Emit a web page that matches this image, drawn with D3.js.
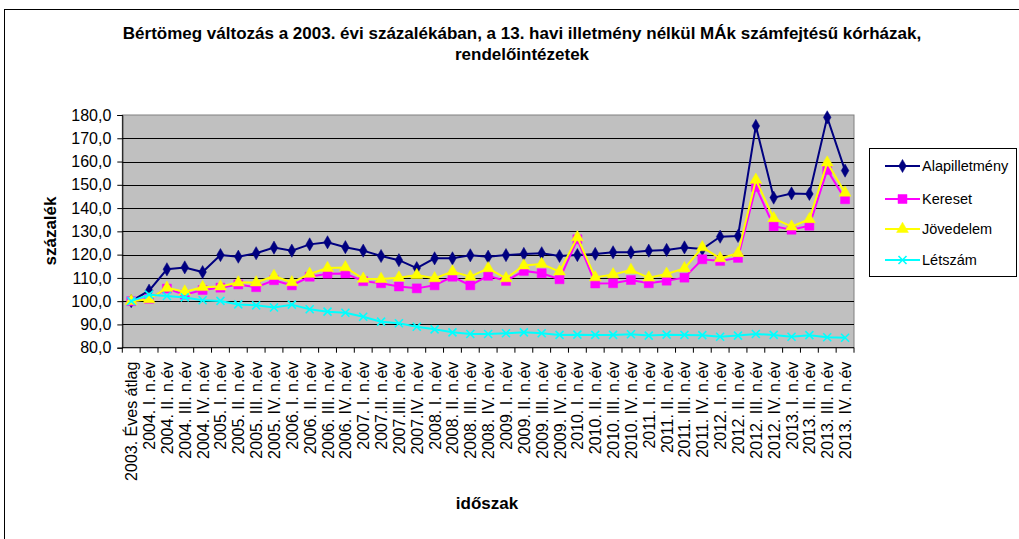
<!DOCTYPE html>
<html><head><meta charset="utf-8">
<script src="https://cdn.jsdelivr.net/npm/d3@7"></script>
<style>
html,body{margin:0;padding:0;background:#fff;}
svg{display:block;font-family:Arial,"Liberation Sans",sans-serif;}
</style></head>
<body>
<svg id="c" width="1019" height="539"></svg>
<script>
const categories = ["2003. Éves átlag",
"2004. I. n.év","2004. II. n.év","2004. III. n.év","2004. IV. n.év",
"2005. I. n.év","2005. II. n.év","2005. III. n.év","2005. IV. n.év",
"2006. I. n.év","2006. II. n.év","2006. III. n.év","2006. IV. n.év",
"2007. I. n.év","2007.II. n.év","2007.III. n.év","2007.IV. n.év",
"2008. I. n.év","2008. II. n.év","2008. III. n.év","2008. IV. n.év",
"2009. I. n.év","2009. II. n.év","2009. III. n.év","2009. IV. n.év",
"2010. I. n.év","2010. II. n.év","2010. III. n.év","2010. IV. n.év",
"2011. I. n.év","2011. II. n.év","2011. III. n.év","2011. IV. n.év",
"2012. I. n.év","2012. II. n.év","2012. III. n.év","2012. IV. n.év",
"2013. I. n.év","2013. II. n.év","2013. III. n.év","2013. IV. n.év"];

const alapilletmeny = [100,104.5,113.7,114.5,112.5,119.8,119.1,120.6,123.0,121.7,124.4,125.3,123.2,
121.7,119.4,117.6,114.2,118.4,118.4,119.7,119.1,119.8,120.3,120.6,119.4,
119.8,120.3,121.0,121.0,121.7,122.0,123.1,122.4,127.7,128.0,175.3,144.5,146.3,146.1,179.0,156.1];
const kereset = [100,101,105.4,102.8,104.8,105.8,107.2,106.0,109.0,106.8,110.5,111.8,111.9,
108.6,107.7,106.3,105.5,106.8,110.5,106.8,110.9,108.7,113.0,112.0,109.4,
126.6,107.6,107.7,109.1,107.7,108.8,110.1,118.0,117.3,118.6,149.1,132.2,130.7,132.4,156.4,143.8];
const jovedelem = [100,100.8,105.7,104.1,106.0,106.3,108.0,108.0,110.8,108.1,111.7,114.2,114.5,
109.6,109.5,110.1,111.2,109.8,112.7,110.5,114.1,109.8,115.3,116.0,112.7,
127.4,110.2,111.5,113.4,110.1,111.7,114.1,123.1,118.4,120.6,152.1,135.6,132.0,135.2,159.5,146.6];
const letszam = [100,102.8,102.2,101.6,100.4,100.1,98.6,98.2,97.3,98.5,96.5,95.5,95.0,
93.3,91.2,90.5,89.0,87.9,86.6,85.9,85.9,86.2,86.6,86.2,85.5,
85.6,85.5,85.5,85.8,85.2,85.6,85.5,85.4,84.7,85.2,85.9,85.5,84.7,85.4,84.5,84.3];
const yTicks = [80,90,100,110,120,130,140,150,160,170,180];

const seriesNames = ["Alapilletmény","Kereset","Jövedelem","Létszám"];
const seriesData = [alapilletmeny,kereset,jovedelem,letszam];
const colors = ["#000080","#FF00FF","#FFFF00","#00FFFF"];
const symbols = ["diamond","square","triangle","x"];

const svg = d3.select("#c");
const L=122.3, R=854, T=115, B=347.7;
const x = d3.scaleBand().domain(categories).range([L,R]).paddingInner(0).paddingOuter(0);
const y = d3.scaleLinear().domain([80,180]).range([B,T]);

// outer frame
svg.append("rect").attr("x",4.5).attr("y",9.5).attr("width",1100).attr("height",600)
  .attr("fill","none").attr("stroke","#000").attr("stroke-width",1);

// title
const title = svg.append("text").attr("text-anchor","middle").attr("font-weight","bold")
  .attr("font-size","17px").attr("fill","#000");
title.append("tspan").attr("x",522).attr("y",39).text("Bértömeg változás a 2003. évi százalékában, a 13. havi illetmény nélkül MÁk számfejtésű kórházak,");
title.append("tspan").attr("x",522).attr("y",60).text("rendelőintézetek");

// plot background
svg.append("rect").attr("x",L).attr("y",T).attr("width",R-L).attr("height",B-T)
  .attr("fill","#C0C0C0").attr("stroke","#808080").attr("stroke-width",1);

// gridlines
svg.append("g").selectAll("line").data(yTicks.filter(v=>v>80 && v<180)).join("line")
  .attr("x1",L).attr("x2",R).attr("y1",d=>Math.round(y(d))+0.5).attr("y2",d=>Math.round(y(d))+0.5)
  .attr("stroke","#000").attr("stroke-width",1);

// y axis
const yAxis = svg.append("g").attr("transform",`translate(${L},0)`)
  .call(d3.axisLeft(y).tickValues(yTicks).tickSize(5).tickPadding(6)
  .tickFormat(d=>d3.format(".1f")(d).replace(".",",")));
yAxis.select(".domain").attr("stroke","#000");
yAxis.selectAll("line").attr("stroke","#000");
yAxis.selectAll("text").attr("font-size","16px").attr("font-family","Arial,'Liberation Sans',sans-serif").attr("fill","#000");

// x axis line + ticks at category boundaries
const xg = svg.append("g");
xg.append("line").attr("x1",L).attr("x2",R).attr("y1",B).attr("y2",B).attr("stroke","#000");
const bounds = categories.map(c=>x(c)).concat([R]);
xg.selectAll("line.t").data(bounds).join("line").attr("class","t")
  .attr("x1",d=>d).attr("x2",d=>d).attr("y1",B).attr("y2",B+5).attr("stroke","#000");
xg.selectAll("text").data(categories).join("text")
  .attr("transform",d=>`translate(${x(d)+x.bandwidth()/2+6},${B+14}) rotate(-90)`)
  .attr("text-anchor","end").attr("font-size","16px").attr("fill","#000")
  .text(d=>d);

// axis titles
svg.append("text").attr("transform","translate(56,231) rotate(-90)").attr("text-anchor","middle")
  .attr("font-weight","bold").attr("font-size","17px").text("százalék");
svg.append("text").attr("x",487).attr("y",509).attr("text-anchor","middle")
  .attr("font-weight","bold").attr("font-size","17px").text("időszak");

// series
const cx = c=>x(c)+x.bandwidth()/2;
const line = d3.line().x((d,i)=>cx(categories[i])).y(d=>y(d));
function marker(g, type, color, size){
  if(type==="x"){
    const s=size/2;
    g.append("path").attr("d",`M${-s},${-s}L${s},${s}M${-s},${s}L${s},${-s}`)
      .attr("stroke",color).attr("stroke-width",1.6).attr("fill","none");
  } else {
    const sym = {diamond:d3.symbolDiamond,square:d3.symbolSquare,triangle:d3.symbolTriangle}[type];
    const area = {diamond:size*size*0.62, square:size*size, triangle:size*size*0.75}[type];
    g.append("path").attr("d",d3.symbol(sym,area)()).attr("fill",color).attr("stroke",color).attr("stroke-width",0.5);
  }
}
seriesData.forEach((data,si)=>{
  const g = svg.append("g");
  g.append("path").datum(data).attr("d",line).attr("fill","none")
    .attr("stroke",colors[si]).attr("stroke-width",2);
  data.forEach((v,i)=>{
    const mg = g.append("g").attr("transform",`translate(${cx(categories[i])},${y(v)})`);
    marker(mg, symbols[si], colors[si], si===3?8:9);
  });
});

// legend
const lg = svg.append("g");
lg.append("rect").attr("x",869.5).attr("y",148.5).attr("width",147).attr("height",128)
  .attr("fill","#fff").attr("stroke","#000");
const ly = [166,199,229,260];
seriesNames.forEach((n,i)=>{
  lg.append("line").attr("x1",885).attr("x2",920).attr("y1",ly[i]).attr("y2",ly[i])
    .attr("stroke",colors[i]).attr("stroke-width",2);
  const mg = lg.append("g").attr("transform",`translate(902.5,${ly[i]})`);
  marker(mg, symbols[i], colors[i], i===3?8:9);
  lg.append("text").attr("x",922).attr("y",ly[i]+5).attr("font-size","14.5px").attr("fill","#000").text(n);
});
</script>
</body></html>
